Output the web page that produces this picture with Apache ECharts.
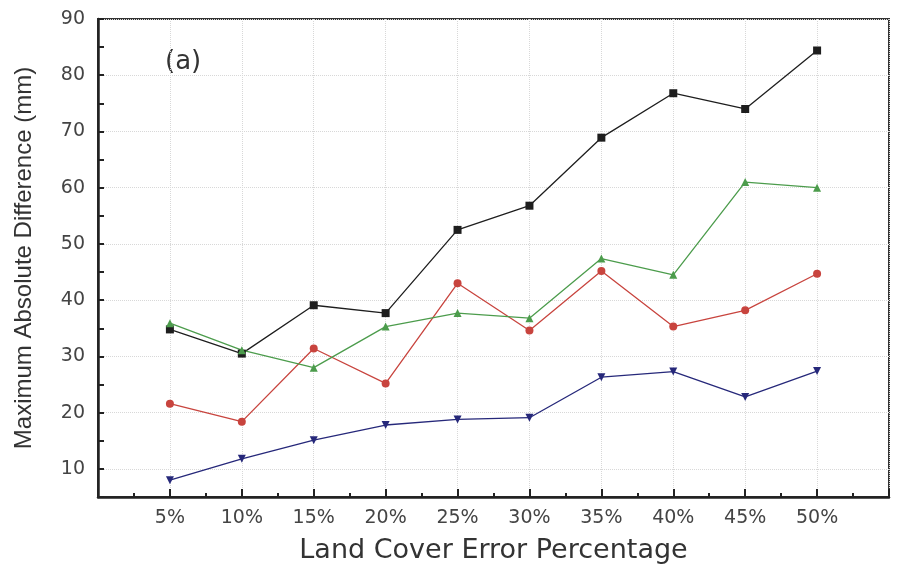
<!DOCTYPE html>
<html>
<head>
<meta charset="utf-8">
<script src="https://cdn.jsdelivr.net/npm/echarts@6/dist/echarts.min.js"></script>
<style>html,body{margin:0;padding:0;background:#fff;}#c{width:897px;height:565px;}</style>
</head>
<body>
<div id="c"></div>
<script>
// Data (x = land cover error percentage, y = maximum absolute difference in mm)
var errorPct = [5, 10, 15, 20, 25, 30, 35, 40, 45, 50];
var seriesBlack = [34.8, 30.5, 39.1, 37.7, 52.5, 56.8, 68.9, 76.8, 74.0, 84.4];
var seriesRed   = [21.6, 18.4, 31.4, 25.2, 43.0, 34.6, 45.2, 35.3, 38.2, 44.7];
var seriesGreen = [35.9, 31.1, 28.0, 35.3, 37.7, 36.8, 47.4, 44.5, 61.0, 60.0];
var seriesBlue  = [8.0, 11.8, 15.1, 17.8, 18.8, 19.1, 26.3, 27.3, 22.8, 27.4];
var yTickLabels = [10, 20, 30, 40, 50, 60, 70, 80, 90];
var xTickLabels = ['5%', '10%', '15%', '20%', '25%', '30%', '35%', '40%', '45%', '50%'];

function pairs(vals) { return errorPct.map(function (x, i) { return [x, vals[i]]; }); }

var chart = echarts.init(document.getElementById('c'), null, { renderer: 'canvas' });
var tickFont = { fontFamily: 'DejaVu Sans', fontSize: 19, color: '#444' };

function mk(name, vals, color, symbol, rot) {
  return {
    name: name, type: 'line', data: pairs(vals),
    symbol: symbol, symbolSize: 8, symbolRotate: rot || 0,
    lineStyle: { color: color, width: 1.3 },
    itemStyle: { color: color, borderWidth: 0 },
    z: 3
  };
}

chart.setOption({
  animation: false,
  backgroundColor: '#fff',
  grid: { left: 98, right: 8, top: 19, bottom: 68, show: true, borderColor: '#333', borderWidth: 2,
          backgroundColor: 'transparent', containLabel: false, outerBoundsMode: 'none' },
  xAxis: {
    type: 'value', min: 0, max: 55, interval: 5,
    name: 'Land Cover Error Percentage', nameLocation: 'middle', nameGap: 40,
    nameTextStyle: { fontFamily: 'DejaVu Sans', fontSize: 27, color: '#333' },
    axisLine: { show: true, onZero: false, lineStyle: { color: '#222', width: 2.5 } },
    axisTick: { show: true, inside: true, length: 8, lineStyle: { color: '#222', width: 2 } },
    minorTick: { show: true, splitNumber: 2, length: 4, lineStyle: { color: '#222', width: 2 } },
    axisLabel: Object.assign({ margin: 12, formatter: function (v) {
      var i = errorPct.indexOf(v); return i >= 0 ? xTickLabels[i] : '';
    } }, tickFont),
    splitLine: { show: true, lineStyle: { color: '#d8d8d8', type: 'dotted', width: 1 } }
  },
  yAxis: {
    type: 'value', min: 5, max: 90, interval: 5,
    name: 'Maximum Absolute Difference (mm)', nameLocation: 'middle', nameGap: 62, nameRotate: 90,
    nameTextStyle: { fontFamily: 'Liberation Sans', fontSize: 24, color: '#333' },
    axisLine: { show: true, onZero: false, lineStyle: { color: '#222', width: 2.5 } },
    axisTick: { show: true, inside: true, length: 6, lineStyle: { color: '#222', width: 2 } },
    axisLabel: Object.assign({ margin: 13, formatter: function (v) {
      return yTickLabels.indexOf(v) >= 0 ? String(v) : '';
    } }, tickFont),
    splitLine: { show: true, lineStyle: { color: ['rgba(0,0,0,0)', '#d8d8d8'], type: 'dotted', width: 1 } }
  },
  graphic: [{ type: 'text', left: 165, top: 49, style: { text: '(a)', fontFamily: 'DejaVu Sans', fontSize: 26, fill: '#333' } }],
  series: [
    mk('black', seriesBlack, '#1e1e1e', 'rect'),
    mk('red', seriesRed, '#c8443e', 'circle'),
    mk('green', seriesGreen, '#4c9c4c', 'triangle'),
    mk('blue', seriesBlue, '#26287a', 'triangle', 180)
  ]
});
</script>
</body>
</html>
